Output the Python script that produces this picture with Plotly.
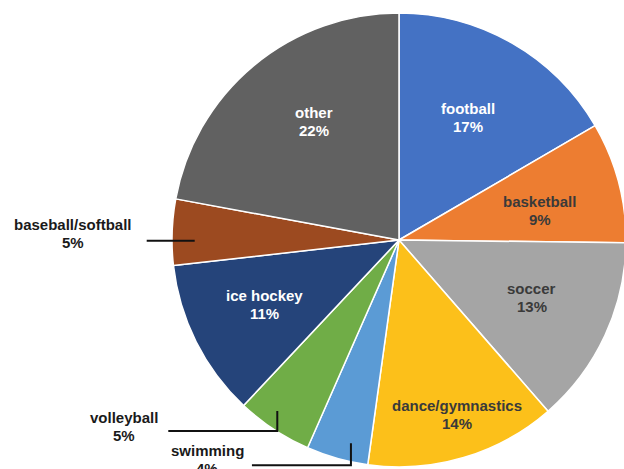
import math
import plotly.graph_objects as go

# ---- data ----
labels = ["football", "basketball", "soccer", "dance/gymnastics", "swimming",
          "volleyball", "ice hockey", "baseball/softball", "other"]
values = [16.6, 8.6, 13.4, 13.6, 4.4, 5.4, 11.2, 4.7, 22.1]
colors = ["#4472C4", "#ED7D31", "#A5A5A5", "#FCC01A", "#5B9BD5",
          "#70AD47", "#25447A", "#9C4A20", "#616161"]

# ---- style / layout helpers ----
W, H = 628, 469
CX, CY, R = 399, 240, 227          # pie centre & radius in pixels
FONT = "Liberation Sans, Arial, sans-serif"
LINE_GAP = 18
CHAR_W = 6.9
# inside labels: (radius frac, position within slice 0..1)
inside = {"football": (0.617, 0.49), "basketball": (0.634, 0.59),
          "soccer": (0.637, 0.47), "dance/gymnastics": (0.81, 0.46),
          "ice hockey": (0.656, 0.52), "other": (0.643, 0.55)}
dark_text = {"basketball", "soccer", "dance/gymnastics"}
# outside labels: (position within slice, radius frac, drop px, line length px, text dy, gap)
outside = {"baseball/softball": (0.37, 0.90, 0, 48, -7, 15),
           "volleyball": (0.60, 0.925, 20, 109, -5, 10),
           "swimming": (0.34, 0.92, 22, 99, -6, 17)}

def px(x):
    return x / W

def py(y):
    return 1 - y / H

fig = go.Figure(go.Pie(
    labels=labels, values=values, sort=False, direction="clockwise",
    rotation=0, textinfo="none", hoverinfo="label+percent",
    marker=dict(colors=colors, line=dict(color="white", width=1.5)),
    domain=dict(x=[px(CX - R), px(CX + R)], y=[py(CY + R), py(CY - R)]),
    showlegend=False,
))

def two_lines(x, y, l1, l2, color):
    out = []
    for i, t in enumerate((l1, l2)):
        out.append(dict(x=px(x), y=py(y + (i - 0.5) * LINE_GAP), xref="paper", yref="paper",
                        text=f"<b>{t}</b>", showarrow=False, xanchor="center",
                        yanchor="middle", align="center",
                        font=dict(family=FONT, size=15, color=color)))
    return out

total = sum(values)
cum = 0.0
annotations = []
shapes = []
for lab, v in zip(labels, values):
    a0 = cum / total * 360
    a1 = (cum + v) / total * 360
    cum += v
    pct = f"{round(v / total * 100)}%"
    if lab in outside:
        frac, rf, drop, length, tdy, gap = outside[lab]
        th = math.radians(a0 + frac * (a1 - a0))
        x0 = CX + rf * R * math.sin(th)
        y0 = CY - rf * R * math.cos(th)
        y1 = y0 + drop
        x2 = x0 - length
        if drop:
            path = f"M {px(x0)},{py(y0)} L {px(x0)},{py(y1)} L {px(x2)},{py(y1)}"
        else:
            path = f"M {px(x0)},{py(y0)} L {px(x2)},{py(y1)}"
        shapes.append(dict(type="path", xref="paper", yref="paper", path=path,
                           line=dict(color="#111111", width=2)))
        xc = x2 - gap - CHAR_W * len(lab) / 2
        annotations += two_lines(xc, y1 + tdy, lab, pct, "#1a1a1a")
    else:
        rf, frac = inside[lab]
        th = math.radians(a0 + frac * (a1 - a0))
        rr = rf * R
        x = CX + rr * math.sin(th)
        y = CY - rr * math.cos(th)
        annotations += two_lines(x, y, lab, pct,
                                 "#3a3a3a" if lab in dark_text else "white")

fig.update_layout(
    width=W, height=H, margin=dict(l=0, r=0, t=0, b=0),
    paper_bgcolor="white", plot_bgcolor="white",
    annotations=annotations, shapes=shapes,
)

fig.write_html("out.html")
